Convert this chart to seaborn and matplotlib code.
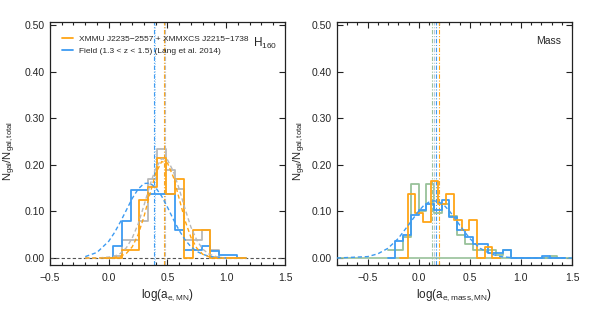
import numpy as np
import pandas as pd
import matplotlib
matplotlib.use("Agg")
import matplotlib.pyplot as plt
import seaborn as sns
from matplotlib.lines import Line2D
from matplotlib.ticker import MultipleLocator, FuncFormatter

# ---------------- data ----------------
# left panel (H160), common bins
edges_h = [-0.040, 0.035, 0.110, 0.186, 0.261, 0.337, 0.412, 0.488, 0.563,
           0.639, 0.714, 0.790, 0.865, 0.940, 1.016, 1.090, 1.165]
field_h = [0.0, 0.026, 0.080, 0.146, 0.146, 0.137, 0.137, 0.137, 0.060,
           0.017, 0.017, 0.026, 0.015, 0.006, 0.006, 0.0]
clus_h = [0.0, 0.0, 0.017, 0.017, 0.124, 0.153, 0.214, 0.137, 0.169,
          0.0, 0.060, 0.060, 0.0, 0.0, 0.0, 0.0]
grey_h = [0.0, 0.005, 0.039, 0.039, 0.080, 0.170, 0.235, 0.190, 0.148,
          0.039, 0.039, 0.060, 0.017, 0.0, 0.0, 0.0]

# gaussian fits (dashed)
fit_x_h = [-0.2, -0.1, 0.0, 0.05, 0.1, 0.15, 0.2, 0.25, 0.3, 0.35, 0.4, 0.45,
           0.5, 0.55, 0.6, 0.65, 0.7, 0.75, 0.8, 0.85, 0.9, 0.95, 1.0]
fit_field_h = [0.003, 0.012, 0.036, 0.055, 0.078, 0.103, 0.128, 0.148, 0.160,
               0.161, 0.151, 0.133, 0.109, 0.083, 0.059, 0.039, 0.024, 0.014,
               0.008, 0.004, 0.002, 0.001, 0.0]
fit_clus_h = [0.0, 0.0, 0.0, 0.001, 0.004, 0.010, 0.024, 0.050, 0.089, 0.137,
              0.182, 0.207, 0.204, 0.174, 0.127, 0.080, 0.044, 0.021, 0.008,
              0.003, 0.001, 0.0, 0.0]
fit_grey_h = [0.0, 0.0, 0.002, 0.004, 0.010, 0.022, 0.043, 0.073, 0.113, 0.156,
              0.193, 0.213, 0.211, 0.186, 0.148, 0.105, 0.066, 0.038, 0.019,
              0.009, 0.004, 0.001, 0.0]
vlines_h = {"field": [0.385, 0.393], "grey": [0.48], "clus": [0.472]}

# right panel (Mass)
edges_m = [-0.304, -0.228, -0.153, -0.077, -0.002, 0.074, 0.149, 0.225, 0.300,
           0.376, 0.451, 0.527, 0.602, 0.678, 0.753, 0.829, 0.904, 0.980,
           1.055, 1.131, 1.206, 1.282, 1.357, 1.433]
field_m = [0.0, 0.037, 0.049, 0.092, 0.103, 0.117, 0.103, 0.124, 0.088, 0.060,
           0.046, 0.030, 0.030, 0.010, 0.010, 0.017, 0.0, 0.0, 0.0, 0.0,
           0.005, 0.0, 0.0]
green_m = [0.017, 0.017, 0.046, 0.158, 0.100, 0.158, 0.096, 0.117, 0.090, 0.050,
           0.030, 0.017, 0.017, 0.017, 0.007, 0.017, 0.0, 0.0, 0.0, 0.0,
           0.0, 0.005, 0.0]
edges_mc = [-0.183, -0.108, -0.033, 0.042, 0.118, 0.193, 0.268, 0.344, 0.419,
            0.495, 0.570, 0.646, 0.721, 0.797]
clus_m = [0.0, 0.137, 0.096, 0.078, 0.166, 0.117, 0.137, 0.081, 0.060, 0.081,
          0.0, 0.024, 0.0]

fit_x_m = [-0.8, -0.5, -0.4, -0.3, -0.2, -0.1, 0.0, 0.05, 0.1, 0.15, 0.2, 0.25,
           0.3, 0.35, 0.4, 0.45, 0.5, 0.55, 0.6, 0.7, 0.8, 0.9, 1.0, 1.5]
fit_field_m = [0.0, 0.003, 0.009, 0.021, 0.042, 0.071, 0.101, 0.113, 0.120,
               0.123, 0.120, 0.113, 0.101, 0.087, 0.071, 0.056, 0.042, 0.031,
               0.021, 0.009, 0.003, 0.001, 0.0, 0.0]
vlines_m = {"green": [0.131], "grey": [0.149], "field": [0.171], "clus": [0.196]}

# ---------------- style ----------------
sns.set_style("ticks")
plt.rcParams["font.family"] = ["Liberation Sans", "DejaVu Sans"]
plt.rcParams["mathtext.fontset"] = "custom"
plt.rcParams["mathtext.rm"] = "Liberation Sans"
plt.rcParams["mathtext.it"] = "Liberation Sans"
plt.rcParams["mathtext.default"] = "regular"

c_orange = "#FFA516"
c_blue = "#3D9BF2"
c_grey = "#B9B9B9"
c_green = "#98C19A"
c_lblue = "#9CCBF5"

fig = plt.figure(figsize=(5.91, 3.10), dpi=100)
ax1 = fig.add_axes([0.0846, 0.1452, 0.3976, 0.7839])
ax2 = fig.add_axes([0.5702, 0.1452, 0.3976, 0.7839])


def step_hist(ax, edges, heights, color, lw=1.3, z=3):
    e = np.array(edges)
    df = pd.DataFrame({"x": (e[:-1] + e[1:]) / 2, "w": heights})
    sns.histplot(data=df, x="x", weights="w", bins=list(edges), element="step",
                 fill=False, color=color, linewidth=lw, ax=ax, zorder=z)


def minus_fmt(fmt):
    return FuncFormatter(lambda v, p: (fmt % v).replace("-", "\u2212"))


vstyle = (0, (4, 1.5, 1, 1.5))
dstyle = (0, (3, 2))

# left panel
ax1.axhline(0, color="#555555", ls=dstyle, lw=0.8, zorder=1)
step_hist(ax1, edges_h, grey_h, c_grey, z=2)
step_hist(ax1, edges_h, field_h, c_blue, z=3)
step_hist(ax1, edges_h, clus_h, c_orange, z=4)
ax1.plot(fit_x_h, fit_grey_h, color=c_grey, ls=dstyle, lw=1.0, zorder=5)
ax1.plot(fit_x_h, fit_field_h, color=c_blue, ls=dstyle, lw=1.0, zorder=5)
ax1.plot(fit_x_h, fit_clus_h, color=c_orange, ls=dstyle, lw=1.0, zorder=5)
ax1.axvline(vlines_h["field"][0], color=c_blue, ls=vstyle, lw=0.8)
ax1.axvline(vlines_h["field"][1], color=c_lblue, ls=":", lw=0.7)
ax1.axvline(vlines_h["clus"][0], color=c_orange, ls=vstyle, lw=0.8)
ax1.axvline(vlines_h["grey"][0], color=c_grey, ls=vstyle, lw=0.8)

# right panel
ax2.axhline(0, color=c_green, lw=1.2, zorder=1)
step_hist(ax2, edges_m, green_m, c_green, z=2)
step_hist(ax2, edges_m, field_m, c_blue, z=3)
step_hist(ax2, edges_mc, clus_m, c_orange, z=4)
ax2.plot(fit_x_m, fit_field_m, color=c_blue, ls=dstyle, lw=1.0, zorder=5)
ax2.axvline(vlines_m["green"][0], color=c_green, ls=vstyle, lw=0.8)
ax2.axvline(vlines_m["grey"][0], color="#BBC8D6", ls=vstyle, lw=0.8)
ax2.axvline(vlines_m["field"][0], color=c_blue, ls=vstyle, lw=0.8)
ax2.axvline(vlines_m["clus"][0], color=c_orange, ls=vstyle, lw=0.8)

for ax, xlim, lx in [(ax1, (-0.5, 1.5), -0.135), (ax2, (-0.8, 1.5), -0.125)]:
    ax.set_xlim(*xlim)
    ax.set_ylim(-0.015, 0.507)
    ax.xaxis.set_major_locator(MultipleLocator(0.5))
    ax.xaxis.set_minor_locator(MultipleLocator(0.1))
    ax.yaxis.set_major_locator(MultipleLocator(0.1))
    ax.xaxis.set_major_formatter(minus_fmt("%.1f"))
    ax.yaxis.set_major_formatter(minus_fmt("%.2f"))
    ax.tick_params(which="both", direction="in", top=True, right=True,
                   color="#222222", width=0.8, labelsize=7.5)
    ax.tick_params(which="major", length=4)
    ax.tick_params(which="minor", length=2.3)
    ax.tick_params(axis="x", pad=6)
    ax.tick_params(axis="y", pad=3.5)
    for s in ax.spines.values():
        s.set_color("#222222")
        s.set_linewidth(0.9)
    ax.set_ylabel(r"$N_{gal}/N_{gal,total}$", fontsize=8)
    ax.yaxis.set_label_coords(lx, 0.47)

ax1.set_xlabel(r"log(a$_{e,MN}$)", fontsize=8.5, labelpad=3)
ax2.set_xlabel(r"log(a$_{e,mass,MN}$)", fontsize=8.5, labelpad=3)

ax1.text(0.862, 0.91, r"H$_{160}$", transform=ax1.transAxes, fontsize=8.5,
         ha="left", va="center")
ax2.text(0.955, 0.922, "Mass", transform=ax2.transAxes, fontsize=7.5,
         ha="right", va="center")

handles = [Line2D([], [], color=c_orange, lw=1.3),
           Line2D([], [], color=c_blue, lw=1.3)]
labels = ["XMMU J2235\u22122557 + XMMXCS J2215\u22121738",
          "Field (1.3 < z < 1.5) (Lang et al. 2014)"]
ax1.legend(handles, labels, loc="upper left", bbox_to_anchor=(0.05, 0.945),
           frameon=False, fontsize=6, handlelength=1.4, handletextpad=0.7,
           labelspacing=0.45, borderpad=0, borderaxespad=0)

fig.savefig("out.png", dpi=100)
